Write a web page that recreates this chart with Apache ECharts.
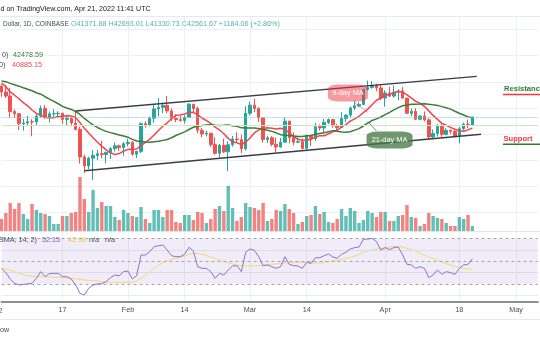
<!DOCTYPE html>
<html><head><meta charset="utf-8">
<script src="https://cdn.jsdelivr.net/npm/echarts@6/dist/echarts.min.js"></script>
<style>html,body{margin:0;padding:0;background:#fff;}#c{width:540px;height:340px;}</style>
</head><body><div id="c"></div>
<script>
// ---- categories (daily, Jan 3 .. May 6 2022) ----
const monthDays = [['Jan', 3, 31], ['Feb', 1, 28], ['Mar', 1, 31], ['Apr', 1, 30], ['May', 1, 6]];
const cats = [];
monthDays.forEach(([m, a, b]) => { for (let d = a; d <= b; d++) cats.push(m + ' ' + d); });

const tickDates = ['Jan 17', 'Feb 1', 'Feb 14', 'Mar 1', 'Mar 14', 'Apr 1', 'Apr 18', 'May 1'];
const tickLabels = ['17', 'Feb', '14', 'Mar', '14', 'Apr', '18', 'May'];

// ---- OHLC (Jan 3 .. Apr 21) ----
const openP = [47310,46440,45830,43430,43100,41560,41680,41860,41830,42740,
43920,42590,43080,43100,43180,42230,42380,41680,40700,36470,
35080,36280,36680,36960,36840,37180,37740,38170,37920,38500,
38720,36900,37330,41570,41390,42410,43840,44080,44390,43520,
42390,42210,42060,42560,44560,43900,40560,40000,40110,38360,
37020,38250,37270,38340,39220,39120,37710,43180,44420,43900,
42460,39150,39400,38410,37990,38740,41960,39420,38730,38810,
37780,39670,39280,41120,40920,41760,42200,41260,41000,42370,
42890,43990,44310,44510,46830,47130,47430,47060,45510,46280,
45810,46400,46580,45500,43170,43440,42250,42750,42160,39530,
40080,41150,39940,40550,40390,39680,40800,41500,41371.88];
const highP = [47570,47500,47070,43750,43150,42300,42770,42250,43100,44350,
44450,43450,43800,43480,43200,42680,42580,43500,41100,36830,
36500,37550,37550,38930,37250,38000,38700,38370,38740,39250,
38850,37400,41750,41950,42650,44500,45500,44800,45820,43900,
43000,42750,42880,44750,44580,44180,40950,40500,40150,39500,
38450,39280,38850,39700,40280,39850,44250,44950,45400,44100,
42520,39700,39650,39450,39400,42550,42050,40250,39450,39300,
39920,39900,41700,41480,42300,42400,42300,41550,43350,43000,
44200,45100,44850,46920,48190,48100,47700,47600,46700,47200,
47450,46880,47200,45500,43900,43950,42800,43450,42400,40700,
41550,41500,40900,40700,40600,41100,41750,42200,42693.01];
const lowP = [45700,45520,42500,42440,40610,40500,41260,39650,41270,42450,
42330,41750,42600,42600,41550,41250,41150,40570,35450,34010,
34600,32930,36000,36250,35500,36150,37300,37400,36650,38100,
36650,36300,37050,40950,41150,41700,42700,43150,43200,42000,
41800,41860,41570,42450,43330,40100,39480,39630,38020,36800,
36370,37050,34300,38050,38600,37050,37450,42830,43350,41850,
38650,38600,38100,37150,37900,38650,38550,38250,38650,37600,
37600,38150,38900,40520,40150,41500,40950,40500,40900,41800,
42600,43650,44100,44450,46650,46950,46550,45200,44200,45650,
45550,45150,45350,43150,42750,42150,42150,41900,39200,39250,
39600,39550,39800,40000,39550,38550,40550,40850,41330.73];
const closeP = [46440,45830,43430,43100,41560,41680,41860,41830,42740,43920,
42590,43080,43100,43180,42230,42380,41680,40700,36470,35080,
36280,36680,36960,36840,37180,37740,38170,37920,38500,38720,
36900,37330,41570,41390,42410,43840,44080,44390,43520,42390,
42210,42060,42560,44560,43900,40560,40000,40110,38360,37020,
38250,37270,38340,39220,39120,37710,43180,44420,43900,42460,
39150,39400,38410,37990,38740,41960,39420,38730,38810,37780,
39670,39280,41120,40920,41760,42200,41260,41000,42370,42890,
43990,44310,44510,46830,47130,47430,47060,45510,46280,45810,
46400,46580,45500,43170,43440,42250,42750,42160,39530,40080,
41150,39940,40550,40390,39680,40800,41500,41371.88,42561.67];

// ---- moving averages (9-day red, 21-day green) ----
const ma9 = [47800,47240,46440,45940,45400,44800,44320,43670,43160,42880,
42520,42490,42490,42670,42720,42780,42770,42540,41720,40890,
40130,39420,38730,38130,37560,37110,36830,36990,37370,37630,
37660,37690,38220,38690,39210,39830,40520,41180,41710,42320,
42870,42920,43060,43300,43310,42920,42430,42060,41610,41030,
40610,40020,39320,38800,38630,38380,38720,39390,40160,40620,
40830,40960,40870,40740,40860,40720,40170,39590,39180,39020,
39060,39160,39500,39740,39720,40030,40320,40570,41080,41430,
41960,42310,42710,43270,43810,44490,45170,45510,45890,46090,
46320,46560,46410,45980,45530,45000,44700,44240,43540,42840,
42240,41620,41330,41000,40710,40490,40410,40620,40885.15];
const ma21 = [48140,48020,47760,47550,47330,47090,46860,46620,46320,46100,
45710,45340,45000,44630,44230,43990,43760,43450,42990,42390,
41870,41400,40990,40670,40390,40200,40040,39850,39690,39500,
39170,38910,38840,38760,38720,38800,38880,39010,39140,39420,
39760,40040,40320,40680,41020,41180,41290,41380,41400,41330,
41310,41330,41380,41270,41160,40930,40900,40920,40900,40850,
40700,40560,40390,40170,39890,39800,39740,39680,39610,39590,
39710,39760,39940,40070,40190,40340,40510,40400,40310,40260,
40330,40580,40820,41220,41650,42070,42310,42600,42960,43300,
43700,44030,44330,44430,44550,44570,44600,44640,44570,44460,
44380,44190,44010,43810,43480,43180,42900,42620,42478.59];

// ---- volume (thousand BTC) ----
const volume = [12,18,28,22,28,17,12,27,21,18,
17,15,7,7,15,15,18,19,54,32,
19,41,23,29,25,25,14,11,21,18,
15,14,24,12,8,21,21,14,21,21,
9,8,16,16,11,19,18,8,12,22,
25,20,45,23,10,14,28,24,23,21,
28,10,12,21,20,27,22,18,7,9,
15,16,25,17,19,9,8,12,22,15,
23,20,8,11,20,18,14,19,19,10,
10,15,16,26,14,13,5,7,18,15,
13,12,8,5,5,14,12,16,5];

// ---- RSI (14) and its SMA (14) ----
const rsi = [43.7,39.9,34.3,30.5,29.0,29.6,29.9,30.5,34.9,40.8,
36.4,39.0,39.3,39.3,36.4,36.4,34.3,29.0,21.7,20.2,
26.1,29.0,29.9,30.2,32.0,35.5,37.8,37.2,40.8,41.4,
34.3,37.2,55.5,55.5,58.4,62.9,63.7,64.3,59.9,54.9,
54.0,54.0,56.1,62.3,59.0,45.2,43.7,43.7,40.8,34.9,
39.3,37.8,42.3,45.8,46.1,40.8,57.9,60.8,59.6,54.0,
46.1,46.7,45.2,43.7,45.2,54.0,47.3,46.1,45.8,43.7,
49.0,48.1,53.1,53.1,54.9,56.4,53.7,52.6,56.1,57.9,
60.8,62.0,62.6,69.3,69.6,70.2,67.3,59.9,62.0,60.2,
62.0,62.6,55.5,47.3,46.7,43.7,45.2,43.7,35.5,37.8,
42.3,38.4,40.8,39.9,38.4,43.7,46.7,47.3,52.15];
const rsiMa = [44.3,43.1,42.0,40.8,39.3,38.1,37.2,36.7,36.4,36.4,
36.1,36.1,35.8,35.8,35.5,35.2,34.9,34.6,34.0,33.4,
33.1,32.8,32.6,32.0,31.7,31.4,31.4,31.4,31.4,31.4,
31.4,32.6,34.9,37.8,40.8,43.7,46.4,48.7,50.5,51.7,
52.6,53.4,54.6,56.1,57.0,57.0,56.1,54.9,53.7,52.3,
51.1,49.9,48.7,47.6,46.7,46.1,45.8,45.8,46.1,46.1,
46.4,46.7,47.3,47.6,47.9,48.4,48.7,49.0,49.0,49.0,
49.0,48.7,48.4,48.4,49.0,49.6,50.2,50.8,51.4,52.3,
53.4,54.6,56.1,57.9,59.0,59.9,60.8,61.4,62.0,62.6,
62.9,62.9,62.6,61.4,60.2,58.7,57.0,55.5,53.7,52.3,
50.8,49.3,47.9,46.7,45.5,44.3,43.7,43.1,42.96];

// ---- drawn channel and annotations (date, price) ----
const channelUpper = [['Jan 20', 43520], ['Apr 22', 48830]];
const channelLower = [['Jan 22', 34360], ['Apr 23', 39960]];
const tag9Anchor = ['Mar 23', 46280];
const tag9Pointer = [['Mar 25', 44750], ['Mar 28', 43360]];
const tag21Anchor = ['Apr 2', 39070];
const tag21Pointer = [['Mar 30', 40450], ['Mar 28', 41900]];

// ---------------------------------------------------------------
const FONT = '"Liberation Sans", Arial, sans-serif';
const upC = '#26a69a', dnC = '#ef5350';
const volUp = 'rgba(38,166,154,0.72)', volDn = 'rgba(239,83,80,0.72)';
const GL = 1.5, GR = 2.22;
const isTick = (i, v) => tickDates.indexOf(v) >= 0;
const last = closeP.length - 1;

const chart = echarts.init(document.getElementById('c'), null, {renderer: 'canvas', width: 540, height: 340});

const hidX = gi => ({type: 'category', gridIndex: gi, data: cats, boundaryGap: false, show: false});

function txt(text, x, y, color, size, extra) {
  return Object.assign({type: 'text', x: x, y: y, z: 100, silent: true,
    style: Object.assign({text: text, fill: color, fontSize: size, fontFamily: FONT, align: 'left', verticalAlign: 'middle'}, extra || {})});
}
function hline(x1, x2, y, color, w) {
  return {type: 'line', z: 100, silent: true, shape: {x1: x1, y1: y, x2: x2, y2: y}, style: {stroke: color, lineWidth: w}};
}

const option = {
  animation: false,
  backgroundColor: '#ffffff',
  textStyle: {fontFamily: FONT},
  grid: [
    {left: GL, right: GR, top: 3.6, height: 234.6, outerBoundsMode: 'none'},
    {left: GL, right: GR, top: 131, height: 100, outerBoundsMode: 'none'},
    {left: GL, right: GR, top: 232.9, height: 69.1, outerBoundsMode: 'none'},
    {left: GL, right: GR, top: 16, height: 286, outerBoundsMode: 'none'}
  ],
  xAxis: [hidX(0), hidX(1), hidX(2), {
    type: 'category', gridIndex: 3, data: cats, boundaryGap: false,
    axisLine: {show: true, lineStyle: {color: '#8d9097', width: 2}},
    axisTick: {show: false},
    axisLabel: {interval: isTick, formatter: v => tickLabels[tickDates.indexOf(v)], color: '#4a4d55', fontSize: 7.2, fontFamily: FONT, margin: 5},
    splitLine: {show: true, interval: isTick, lineStyle: {color: '#edf0f5', width: 1}}
  }],
  yAxis: [
    {type: 'value', gridIndex: 0, min: 24000, max: 60000, interval: 4000, position: 'right',
     axisLabel: {show: false}, axisLine: {show: false}, axisTick: {show: false},
     splitLine: {show: true, showMinLine: false, showMaxLine: false, lineStyle: {color: '#edf0f5', width: 1}}},
    {type: 'value', gridIndex: 1, min: 0, max: 100, show: false},
    {type: 'value', gridIndex: 2, min: 14, max: 75, show: false},
    {type: 'value', gridIndex: 3, show: false}
  ],
  series: [
    {
      type: 'bar', xAxisIndex: 1, yAxisIndex: 1, barWidth: 3.4, z: 1,
      data: volume.map((v, i) => ({value: v, itemStyle: {color: closeP[i] >= openP[i] ? volUp : volDn}}))
    },
    {
      type: 'candlestick', xAxisIndex: 0, yAxisIndex: 0, barWidth: 3, z: 3,
      data: openP.map((o, i) => [o, closeP[i], lowP[i], highP[i]]),
      itemStyle: {color: upC, color0: dnC, borderColor: upC, borderColor0: dnC, borderWidth: 1},
      markLine: {
        silent: true, symbol: ['none', 'none'], label: {show: false}, animation: false,
        data: [
          {yAxis: openP[last], lineStyle: {color: '#cfe6c4', type: 'solid', width: 1}},
          {yAxis: closeP[last], lineStyle: {color: '#7fcfc6', type: 'dotted', width: 1}},
          [{coord: channelUpper[0], lineStyle: {color: '#3a3d45', type: 'solid', width: 1.4}}, {coord: channelUpper[1]}],
          [{coord: channelLower[0], lineStyle: {color: '#3a3d45', type: 'solid', width: 1.4}}, {coord: channelLower[1]}],
          [{coord: tag9Pointer[0], lineStyle: {color: 'rgba(242,54,69,0.55)', type: 'solid', width: 1}}, {coord: tag9Pointer[1]}],
          [{coord: tag21Pointer[0], lineStyle: {color: 'rgba(56,110,56,0.7)', type: 'solid', width: 1}}, {coord: tag21Pointer[1]}]
        ]
      },
      markPoint: {
        silent: true, animation: false,
        data: [
          {coord: tag9Anchor, symbol: 'roundRect', symbolSize: [40, 17], symbolOffset: [2, 0],
           itemStyle: {color: 'rgba(242,54,69,0.5)'},
           label: {show: true, position: 'inside', formatter: '9-day MA', color: '#ffffff', fontSize: 7.4, fontFamily: FONT}},
          {coord: tag21Anchor, symbol: 'roundRect', symbolSize: [46, 17], symbolOffset: [0, 0],
           itemStyle: {color: 'rgba(72,122,68,0.78)'},
           label: {show: true, position: 'inside', formatter: '21-day MA', color: '#ffffff', fontSize: 7.4, fontFamily: FONT}}
        ]
      }
    },
    {type: 'line', xAxisIndex: 0, yAxisIndex: 0, data: ma9, symbol: 'none', z: 4, lineStyle: {color: '#f0454f', width: 1.5}},
    {type: 'line', xAxisIndex: 0, yAxisIndex: 0, data: ma21, symbol: 'none', z: 4, lineStyle: {color: '#3c7d38', width: 1.5}},
    {
      type: 'line', xAxisIndex: 2, yAxisIndex: 2, data: rsi, symbol: 'none', z: 5,
      lineStyle: {color: '#8e6fd0', width: 1},
      markArea: {silent: true, itemStyle: {color: 'rgba(126,87,194,0.11)'}, data: [[{yAxis: 30}, {yAxis: 70}]]},
      markLine: {
        silent: true, symbol: ['none', 'none'], label: {show: false}, animation: false,
        data: [
          {yAxis: 20, lineStyle: {color: '#e8eaf0', type: 'solid', width: 1}},
          {yAxis: 40, lineStyle: {color: '#dedbe9', type: 'solid', width: 1}},
          {yAxis: 60, lineStyle: {color: '#dedbe9', type: 'solid', width: 1}},
          {yAxis: 30, lineStyle: {color: '#a4a6ad', type: [3, 3], width: 1}},
          {yAxis: 50, lineStyle: {color: '#a4a6ad', type: [3, 3], width: 1}},
          {yAxis: 70, lineStyle: {color: '#a4a6ad', type: [3, 3], width: 1}}
        ]
      }
    },
    {type: 'line', xAxisIndex: 2, yAxisIndex: 2, data: rsiMa, symbol: 'none', z: 4, lineStyle: {color: '#f3d873', width: 1}}
  ],
  graphic: [
    hline(0, 540, 16.5, '#e6e9ef', 1),
    hline(0, 540, 231.5, '#e3e6ec', 1),
    hline(0, 540, 319.5, '#e6e9ef', 1),
    txt('d on TradingView.com, Apr 21, 2022 11:41 UTC', 0.5, 9, '#131722', 7.1),
    txt('Dollar, 1D, COINBASE', 3, 24.5, '#4a4d55', 6.5),
    txt('O41371.88 H42693.01 L41330.73 C42561.67 +1184.06 (+2.86%)', 71, 24.5, '#4fb5aa', 7.2),
    txt(', 0)', -2, 55, '#4a4d55', 7.2),
    txt('42478.59', 13, 55, '#3c7d38', 7.2),
    txt('0)', -1, 65.5, '#4a4d55', 7.2),
    txt('40885.15', 12, 65.5, '#f0454f', 7.2),
    txt('Resistance', 504, 89, '#2e7d32', 7.6, {fontWeight: 'bold'}),
    hline(503, 540, 94.5, '#f23645', 1.5),
    txt('Support', 503.5, 138.5, '#f23645', 7.6, {fontWeight: 'bold'}),
    hline(503, 540, 144.3, '#2e7d32', 1.5),
    txt(', SMA, 14, 2)', -5, 240, '#4a4d55', 7.2),
    txt('52.15', 42, 240, '#7e57c2', 7.2),
    txt('42.96', 68, 240, '#e9c84f', 7.2),
    txt('n/a', 89, 240, '#4a4d55', 7.2),
    txt('n/a', 105, 240, '#4a4d55', 7.2),
    txt('2022', 2.4, 311, '#4a4d55', 7.2, {align: 'right'}),
    txt('ow', 0, 330, '#4a4d55', 7.2)
  ]
};
chart.setOption(option);
</script>
</body></html>
